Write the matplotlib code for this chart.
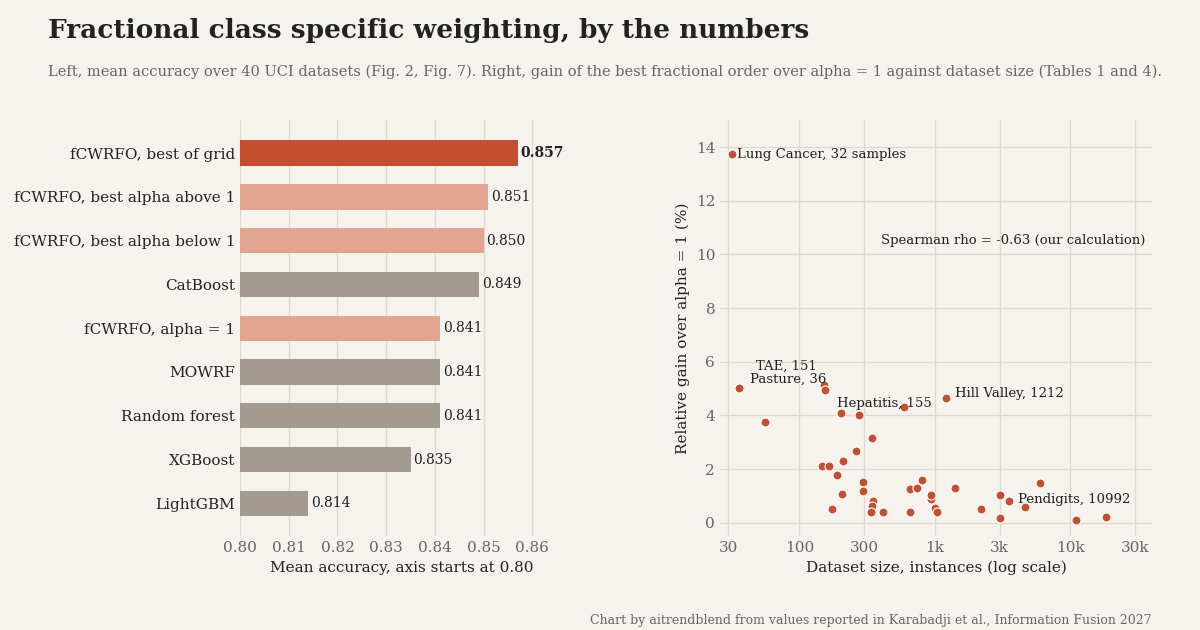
import matplotlib.pyplot as plt
import numpy as np

# datos panel izquierdo
modelos = ["fCWRFO, best of grid", "fCWRFO, best alpha above 1", "fCWRFO, best alpha below 1",
           "CatBoost", "fCWRFO, alpha = 1", "MOWRF", "Random forest", "XGBoost", "LightGBM"]
precision = [0.857, 0.851, 0.850, 0.849, 0.841, 0.841, 0.841, 0.835, 0.814]
tipo = ["best", "fc", "fc", "otro", "fc", "otro", "otro", "otro", "otro"]

# datos panel derecho (tamano, ganancia %)
tamano = [32, 36, 151, 155, 56, 202, 278, 595, 1212, 346, 260, 209, 146, 165, 189, 297, 297,
          205, 173, 352, 341, 339, 417, 657, 657, 740, 805, 935, 935, 1000, 1040, 1400, 2180,
          3000, 3000, 3520, 4650, 5990, 10992, 18200]
ganancia = [13.73, 5.04, 5.15, 4.96, 3.77, 4.10, 4.0, 4.33, 4.66, 3.17, 2.68, 2.31, 2.13, 2.13,
            1.79, 1.53, 1.19, 1.08, 0.52, 0.82, 0.63, 0.41, 0.41, 0.41, 1.27, 1.31, 1.6, 0.9,
            1.04, 0.56, 0.41, 1.31, 0.52, 1.04, 0.19, 0.82, 0.6, 1.49, 0.11, 0.22]

fondo = "#f6f3ee"
colores = {"best": "#c44e2e", "fc": "#e0a58e", "otro": "#a39b8f"}
rojo = "#c44e2e"
grilla = "#e0d9cd"

fig = plt.figure(figsize=(12, 6.3), dpi=100, facecolor=fondo)
ax1 = fig.add_axes([0.20, 0.149, 0.27, 0.66])
ax2 = fig.add_axes([0.60, 0.149, 0.36, 0.66])
for ax in (ax1, ax2):
    ax.set_facecolor(fondo)
    for s in ax.spines.values():
        s.set_visible(False)
    ax.tick_params(colors="#666", labelsize=11, length=0)
    ax.grid(color=grilla, lw=1)
    ax.set_axisbelow(True)

fig.text(0.04, 0.94, "Fractional class specific weighting, by the numbers", family="DejaVu Serif",
         fontsize=19, weight="bold", color="#222")
fig.text(0.04, 0.88, "Left, mean accuracy over 40 UCI datasets (Fig. 2, Fig. 7). Right, gain of the best "
         "fractional order over alpha = 1 against dataset size (Tables 1 and 4).",
         family="DejaVu Serif", fontsize=10.5, color="#666")
fig.text(0.96, 0.01, "Chart by aitrendblend from values reported in Karabadji et al., Information Fusion 2027",
         ha="right", family="DejaVu Serif", fontsize=9, color="#666")

# izquierda
pos = np.arange(len(modelos))
ax1.barh(pos, np.array(precision) - 0.80, left=0.80, height=0.58, color=[colores[t] for t in tipo])
for p, v, t in zip(pos, precision, tipo):
    ax1.text(v + 0.0006, p, f"{v:.3f}", va="center", family="DejaVu Serif", fontsize=10,
             weight="bold" if t == "best" else "normal", color="#222")
ax1.set_yticks(pos)
ax1.set_yticklabels(modelos, family="DejaVu Serif", color="#222")
ax1.invert_yaxis()
ax1.set_xlim(0.80, 0.8665)
ax1.set_ylim(8.75, -0.75)
ax1.set_xticks(np.arange(0.80, 0.861, 0.01))
ax1.set_xticklabels([f"{v:.2f}" for v in np.arange(0.80, 0.861, 0.01)], family="DejaVu Serif")
ax1.grid(axis="y", visible=False)
ax1.set_xlabel("Mean accuracy, axis starts at 0.80", family="DejaVu Serif", fontsize=11, color="#222")

# derecha
ax2.scatter(tamano, ganancia, s=42, color=rojo, edgecolor="white", lw=0.8, zorder=3)
ax2.set_xscale("log")
ax2.set_xlim(26, 40000)
ax2.set_ylim(-0.5, 15)
ticks = [30, 100, 300, 1000, 3000, 10000, 30000]
ax2.set_xticks(ticks)
ax2.set_xticklabels(["30", "100", "300", "1k", "3k", "10k", "30k"], family="DejaVu Serif")
ax2.minorticks_off()
ax2.set_yticks(range(0, 15, 2))
ax2.set_yticklabels([str(v) for v in range(0, 15, 2)], family="DejaVu Serif")
ax2.set_xlabel("Dataset size, instances (log scale)", family="DejaVu Serif", fontsize=11, color="#222")
ax2.set_ylabel("Relative gain over alpha = 1 (%)", family="DejaVu Serif", fontsize=11, color="#222")
kw = dict(family="DejaVu Serif", fontsize=9.5, color="#222")
ax2.text(35, 13.73, "Lung Cancer, 32 samples", va="center", **kw)
ax2.text(48, 5.7, "TAE, 151", **kw)
ax2.text(43, 5.2, "Pasture, 36", **kw)
ax2.text(190, 4.3, "Hepatitis, 155", **kw)
ax2.text(1400, 4.8, "Hill Valley, 1212", va="center", **kw)
ax2.text(4100, 0.85, "Pendigits, 10992", va="center", **kw)
ax2.text(36000, 10.4, "Spearman rho = -0.63 (our calculation)", ha="right", **kw)

fig.savefig("out.png", facecolor=fondo)
